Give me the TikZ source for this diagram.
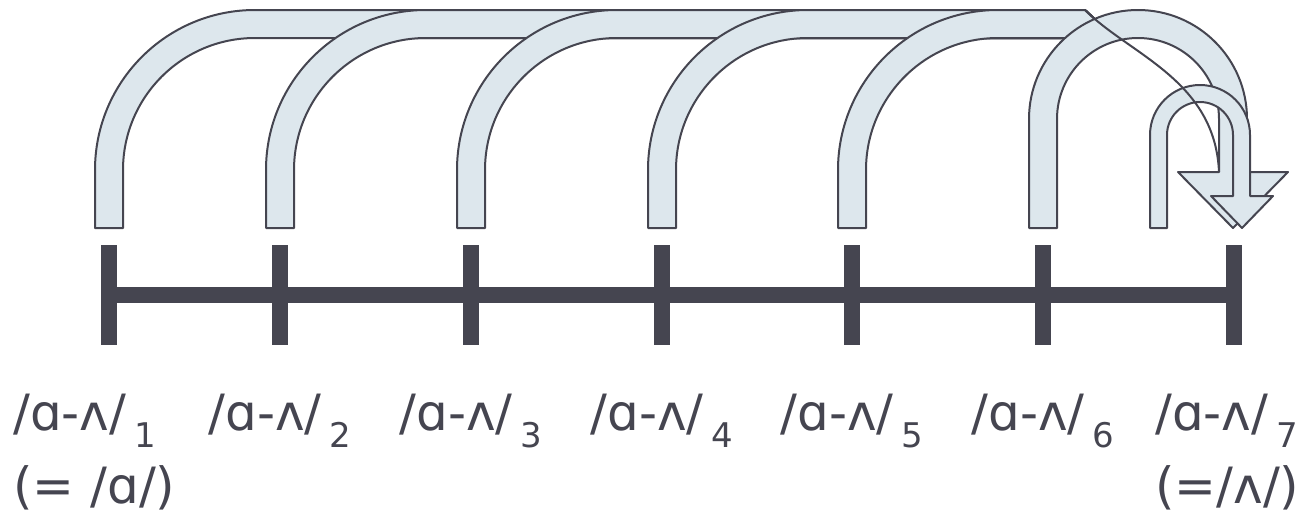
\documentclass[tikz,border=0pt]{standalone}
\usepackage{fontspec}
\setmainfont{DejaVu Sans}
\usetikzlibrary{positioning}
\definecolor{softslate}{RGB}{69,69,80}
\definecolor{softsky}{RGB}{221,231,237}
\newcommand{\vidx}[1]{\,\raisebox{-17pt}{\fontsize{34}{34}\selectfont #1}}

\begin{document}
\begin{tikzpicture}[x=1pt, y=-1pt,
    every node/.style={font=\fontsize{50}{60}\selectfont, text=softslate, inner sep=0pt},
    band/.style={fill=softsky, draw=softslate, line width=2pt, line join=round},
    bar/.style={draw=softslate, line width=16pt}]
    \useasboundingbox (0,0) rectangle (1309,514);

    % points on the line
    \foreach \n/\x in {1/109,2/280,3/471,4/662,5/852,6/1043,7/1234}
      \coordinate (t\n) at (\x,295);

    \draw[bar] (t1) -- (t7);
    \foreach \n in {1,...,7}
      \draw[bar] ([yshift=50pt]t\n) -- ([yshift=-50pt]t\n);

    % long arrows to the last point
    \foreach \x in {109,280,471,662,852}
      \filldraw[band] (\x-14,228) -- (\x-14,170) arc[start angle=180, end angle=270, radius=160]
        -- (1085,10) .. controls (1100,24) .. (1112,38) -- (\x+146,38)
        arc[start angle=270, end angle=180, radius=132] -- (\x+14,228) -- cycle;

    \filldraw[band] (1029,228) -- (1029,119) arc[start angle=180, end angle=360, radius=109]
      -- (1247,172) -- (1288,172) -- (1233,228) -- (1178,172) -- (1219,172) -- (1219,119)
      arc[start angle=360, end angle=180, radius=81] -- (1057,228) -- cycle;

    \filldraw[band] (1150,228) -- (1150,135) arc[start angle=180, end angle=360, radius=50]
      -- (1250,196) -- (1273,196) -- (1242,228) -- (1211,196) -- (1233,196) -- (1233,135)
      arc[start angle=360, end angle=180, radius=33] -- (1167,228) -- cycle;

    \draw[softslate, line width=2pt] (1085,10) .. controls (1130,55) and (1215,80) .. (1219,172);

    % labels
    \node[anchor=base west] (l1) at (13,430) {/ɑ-ʌ/\vidx{1}};
    \foreach \n in {2,...,6}
      \node[anchor=base] (l\n) at (t\n |- 0,430) {/ɑ-ʌ/\vidx{\n}};
    \node[anchor=base west] (l7) at (1155,430) {/ɑ-ʌ/\vidx{7}};
    \node[anchor=base west] (e1) at (13,503) {(= /ɑ/)};
    \node[anchor=base west] (e7) at (1155,503) {(=/ʌ/)};
  \end{tikzpicture}
\end{document}
